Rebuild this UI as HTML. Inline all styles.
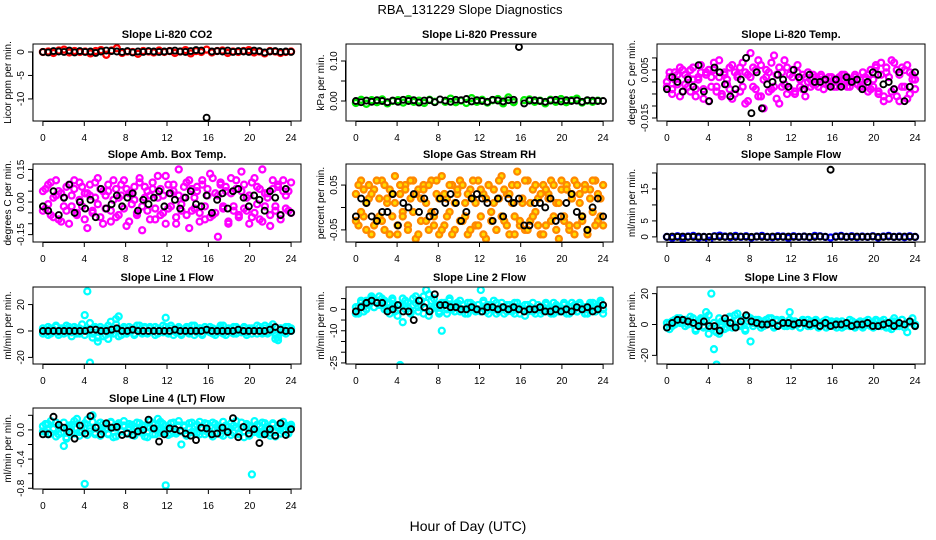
<!DOCTYPE html>
<html><head><meta charset="utf-8"><style>
body{margin:0;background:#fff;}
svg{display:block;font-family:"Liberation Sans",sans-serif;}
</style></head><body>
<svg id="chart" width="936" height="540" viewBox="0 0 936 540">
<text x="470" y="14" font-size="13" text-anchor="middle">RBA_131229  Slope Diagnostics</text>
<text x="468" y="531" font-size="14" text-anchor="middle">Hour of Day (UTC)</text>
</svg>
<script>
const xTicks=[0,4,8,12,16,20,24];
const co2Color=[0,.1,-.2,.3,.5,-.1,.2,0,.1,-.3,.2,.4,-.6,.3,.8,-.2,.1,0,-.4,.2,.1,-.1,.3,0,.2,-.2,.1,.4,-.3,.2,0,.5,-.1,.2,.3,-.2,.1,0,.2,.4,-.1,.1,-.3,.2,.1,-.2,0,.1];
const co2Black=[0,-.1,.2,.1,0,.3,-.1,.2,0,.1,-.2,.1,.3,.2,.1,0,.2,-.1,.1,0,.2,.1,0,.1,.2,.3,.1,0,.2,.4,.3,-14,.1,.2,.1,.3,0,.2,.1,0,.3,.2,-.1,.1,.2,0,.1,0];
const presColor=[-.005,.003,-.007,.002,-.003,.004,-.006,0,.002,-.004,.005,-.002,.001,-.005,.003,-.002,-.065,-.002,.006,-.003,.001,-.005,.007,-.002,.003,-.004,.002,.005,-.006,.009,-.003,-.065,.002,.004,-.002,.001,-.006,.003,-.002,.005,-.003,.002,.006,-.004,.001,-.002,.001,-.062];
const presBlack=[0,-.003,.001,-.002,.002,0,-.003,.001,-.002,.003,0,.002,-.004,.001,.002,-.003,.004,.001,-.002,.003,.002,.005,-.001,.002,0,-.002,.003,.001,-.001,.002,.003,.135,-.006,.001,.002,0,-.002,.001,.003,-.001,.002,0,.001,-.002,.002,.001,0,0];
const tempColor=[0,.002,-.003,.004,-.001,.006,-.004,.003,-.002,.005,.001,-.006,.002,.007,-.003,.004,-.008,.002,.005,-.002,.009,-.005,.003,-.001,.006,-.007,.004,.002,-.004,.008,-.009,.003,.012,-.002,.005,-.006,.007,-.011,.002,.004,-.003,.011,-.007,.006,-.002,.009,-.005,.003,.005,-.004,.007,-.002,.003,-.006,.004,.001,-.001,.002,-.002,.003,.001,-.001,.002,0,-.002,.001,.002,-.001,.003,-.002,.001,0,.002,-.001,.001,-.002,.002,.003,-.003,.001,.006,-.004,.008,-.006,.004,-.007,.009,-.003,.005,-.008,.006,-.002,.007,-.005,.003,.001];
const tempColor2=[-.002,.004,-.005,.001,.003,-.006,.005,-.001,.002,-.004,.006,-.003,.001,.004,-.007,.003,.005,-.002,.008,-.004,.002,-.006,.004,.001,-.003,.007,-.005,.003,.006,-.002,.004,-.008,.002,.006,-.003,.009,-.006,.001,.005,-.004,.008,-.002,.003,-.009,.004,-.001,.006,-.003,.002,-.005,.004,.001,-.003,.002,0,-.002,.003,-.001,.001,.002,-.003,.001,-.001,.002,.001,-.002,0,.003,-.001,.002,-.002,.001,.003,-.001,-.002,.004,.001,-.004,.005,-.002,.007,-.005,.003,-.008,.006,.002,-.004,.008,-.006,.003,-.002,.005,-.007,.004,.001,-.003];
const tempBlack=[-.003,.002,0,-.004,.001,-.002,.007,-.004,-.008,.006,.004,-.001,-.006,-.003,.001,.01,-.013,.004,-.011,-.001,0,.003,.001,-.002,.005,.002,-.003,.003,0,0,.001,-.002,.001,-.002,.002,0,.001,-.003,0,.004,.003,-.001,0,-.003,.004,-.008,-.002,.004];
const ambColor=[.05,-.03,.08,-.06,.02,.1,-.08,.04,-.02,.07,-.1,.03,.06,-.05,.09,-.02,.04,-.12,.08,-.04,.02,.11,-.07,.05,-.03,.08,-.09,.01,.06,-.06,.03,.1,-.11,.04,-.01,.07,-.05,.09,-.13,.02,.05,-.08,.06,-.03,.12,-.06,.03,-.1,.08,-.02,.05,-.07,.15,-.04,.02,.09,-.12,.06,-.03,.07,-.05,.1,-.08,.03,.13,-.06,.04,-.16,.08,-.02,.05,-.09,.11,-.04,.06,-.07,.14,-.03,.02,-.1,.09,-.05,.07,-.08,.15,-.02,.04,-.11,.06,-.04,.08,-.06,.1,-.03,.05,-.05];
const ambColor2=[-.04,.06,-.01,.09,-.07,.03,.05,-.09,.02,-.04,.08,-.02,.1,-.06,.01,.07,-.08,.04,.03,-.05,.09,-.01,.06,-.1,.03,.05,-.04,.1,-.07,.02,.08,-.03,.06,-.09,.04,.01,-.06,.11,-.02,.07,-.04,.03,.09,-.08,.02,.06,-.05,.12,-.03,.04,.08,-.1,.03,-.01,.07,-.06,.1,-.04,.02,.05,-.09,.08,-.02,.06,-.07,.11,-.05,.03,.09,-.03,.07,-.1,.04,-.02,.1,-.06,.05,.08,-.04,.03,-.07,.11,-.01,.06,-.09,.04,.02,-.06,.1,-.02,.07,-.08,.05,.03,-.04,.09];
const ambBlack=[-.02,-.04,.05,-.06,.02,.08,-.05,0,-.03,.01,-.07,.06,-.03,-.01,.03,-.02,.02,.04,-.04,.01,-.01,.02,.05,-.02,.04,.01,-.03,.02,.05,-.01,-.02,.03,-.05,.01,.04,-.03,.05,.06,.02,-.02,.03,.01,-.04,.05,.02,-.06,.06,-.05];
const rhColor=[.03,-.04,.06,-.02,.01,.05,-.06,.04,-.03,.02,.06,-.05,.01,.04,-.02,.07,-.06,.03,-.01,.05,-.04,.02,.06,-.07,.04,-.03,.05,.01,-.05,.06,-.02,.03,-.06,.07,-.04,.02,-.01,.05,-.05,.03,.06,-.03,.01,-.06,.04,.02,-.04,.06,-.02,.03,-.07,.05,-.01,.04,-.05,.02,.07,-.03,.03,-.06,.05,-.02,.08,-.04,.01,-.05,.06,-.03,.04,-.01,.02,-.06,.05,-.04,.03,.06,-.02,.01,-.07,.04,-.03,.05,-.05,.02,.06,-.04,.03,-.02,.05,-.06,.04,-.01,.06,-.03,.02,-.04];
const rhColor2=[-.03,.05,-.01,.04,-.05,.02,.03,-.04,.06,-.02,-.03,.05,.02,-.06,.03,.01,-.04,.05,-.02,.04,-.05,.06,-.01,.03,-.06,.02,.04,-.03,.05,-.01,-.04,.06,.02,-.05,.03,-.02,.05,-.06,.01,.04,-.03,.05,-.02,.03,-.05,.06,.01,-.04,.04,-.06,.02,.05,-.03,.01,-.05,.06,-.02,.04,-.04,.03,.01,-.06,.05,-.03,.02,.06,-.05,.01,-.02,.05,-.04,.03,-.06,.04,.02,-.03,.05,-.05,.01,.06,-.02,.04,-.04,.03,-.06,.05,.01,-.03,.04,-.05,.02,.06,-.04,.03,-.02,.05];
const rhBlack=[-.02,.02,.01,-.02,-.03,-.01,-.01,.03,-.04,.01,0,.03,-.01,.02,-.02,-.01,.02,.01,.03,.01,-.03,-.01,.02,.03,.02,.01,-.03,.02,-.02,.02,.01,.02,-.04,-.04,.01,.01,0,.02,-.03,-.02,.01,.03,-.01,-.02,-.05,0,.02,-.02];
const sampColor=[0,-.3,.2,-.5,.1,.3,-.2,0,-1.2,.2,.4,.1,-.1,.3,0,.2,-.2,.1,.3,0,-.1,.2,.1,-.3,.2,0,.1,-.1,.3,.2,0,-.2,.1,.3,0,.2,-.1,.1,0,.2,-.2,.1,.3,0,.1,-.1,.2,0];
const sampBlack=[0,.1,0,.1,0,0,.1,0,0,.1,0,0,.2,0,.1,0,0,.1,0,0,.1,0,0,.1,0,0,.1,0,0,.1,0,21,0,.1,0,0,.1,0,0,.1,0,0,.1,0,0,.1,0,0];
const l1Color=[-2,1,-3,2,0,3,-1,2,-2,4,1,-1,3,-2,2,0,12,30,-24,-5,3,-8,1,-4,2,-6,7,-2,9,11,-3,2,-1,3,0,-2,4,1,-2,3,-1,2,0,3,-2,1,4,10,-1,2,-3,1,3,-2,0,2,-1,4,-3,1,2,-2,3,0,-1,2,-3,1,4,-2,0,2,-1,3,-2,1,0,3,-1,2,-2,1,4,0,-2,2,-1,3,5,-6,-5,2,-1,3,0,2];
const l1Color2=[2,-1,3,-2,1,4,-3,0,2,-1,3,-4,1,2,-2,5,-3,1,6,-2,2,-5,3,1,-3,4,-1,2,5,-4,1,3,-2,0,2,-3,1,4,-1,2,-2,3,0,-3,2,1,-1,3,-2,4,0,-1,2,-3,1,3,-2,0,4,-1,2,-3,1,0,3,-2,1,-1,2,4,-3,0,1,-2,3,1,-1,2,-3,0,2,1,-2,3,-1,4,-2,1,0,-3,-7,2,1,-2,3,0];
const l1Black=[0,0,0,0,0,0,0,0,0,1,1,0,0,1,2,0,0,1,0,0,0,0,0,0,0,1,0,0,0,0,0,1,0,0,0,0,0,1,0,0,0,0,0,1,3,1,0,0];
const l2Color=[-2,1,3,-1,4,2,5,1,3,6,2,4,0,3,5,-1,2,-26,-6,4,1,-2,5,3,-1,2,6,9,-3,4,1,2,-2,-10,3,0,5,1,-1,2,4,0,-2,3,1,2,-1,0,9,3,-1,2,1,4,-2,0,3,1,-1,2,0,-2,3,1,0,-3,2,1,-1,0,2,-2,1,3,-1,0,-2,2,1,-1,3,0,-2,1,2,-1,3,0,1,-2,2,3,-1,1,4,0];
const l2Color2=[1,-2,4,2,0,3,6,1,4,2,5,0,3,-2,4,1,-3,2,5,0,3,-1,2,6,1,4,-2,3,7,0,5,1,-1,3,2,-2,4,0,1,3,-1,2,0,-2,3,1,0,2,-1,4,1,-2,2,0,3,-1,1,-2,2,0,-1,3,1,-2,0,2,-1,1,3,-2,0,1,-1,2,0,-2,3,1,-1,0,2,-2,1,3,0,-1,2,1,-2,0,3,1,-1,2,3,-2];
const l2Black=[-1,1,3,4,3,3,-1,0,2,-1,-1,-5,4,1,-1,7,2,2,1,1,0,0,1,0,-1,1,1,0,1,0,1,0,-1,0,0,1,-1,-1,0,-1,0,-1,1,0,1,-1,0,2];
const l3Color=[-2,1,-1,3,2,4,1,3,0,2,4,-3,1,3,-2,8,-6,20,-16,-26,-6,2,-3,1,4,-2,6,3,-1,2,-4,5,-11,1,3,0,2,-1,3,1,4,-1,2,0,3,1,-1,8,2,0,1,-2,3,1,-1,2,0,3,-1,1,2,-2,1,0,-1,2,1,-2,0,1,-1,2,-1,0,1,-2,2,0,-1,1,3,-1,2,0,-2,1,-3,2,1,-1,3,0,-5,2,1,0];
const l3Color2=[1,-3,2,0,4,1,3,-1,2,5,0,-4,2,4,-1,3,6,-2,1,-5,4,0,2,-2,5,1,-1,7,0,3,-3,2,4,-1,1,3,-2,2,0,4,1,-2,3,0,2,-1,1,3,-1,2,0,-2,2,1,3,-1,0,2,-2,1,0,3,-1,2,1,-2,0,2,-1,1,3,0,-2,1,2,-1,0,3,1,-2,2,0,-1,3,1,-2,2,4,-1,0,3,-2,1,2,4,-1];
const l3Black=[-2,1,3,3,2,1,-1,2,-1,-1,-4,4,1,-2,2,6,2,1,0,0,1,-1,1,1,0,1,1,0,1,-1,1,-1,0,0,1,-1,0,0,1,-1,-1,0,1,-1,1,0,2,-1];
const l4Color=[.05,-.03,.08,-.05,.02,.1,-.06,.03,-.22,-.12,.06,-.04,.12,.02,-.08,-.02,-.74,.14,-.02,.2,-.06,.04,.1,-.03,.07,-.05,.11,-.1,.03,.09,-.02,.06,-.04,.08,-.07,.02,.1,-.03,.05,-.09,.04,.12,-.06,.02,.15,-.04,.08,-.76,.03,-.05,.1,-.02,.06,-.2,.04,-.07,.09,-.03,.05,-.04,.11,.02,-.06,.08,-.03,.1,-.05,.04,.02,-.08,.06,-.02,.09,-.04,.12,-.06,.03,-.1,.08,.05,-.61,-.03,.07,-.06,.1,-.02,.04,-.08,.09,-.03,.06,-.05,.11,-.01,.03,.07];
const l4Color2=[-.02,.08,-.06,.12,.01,-.09,.05,-.04,.1,-.1,.03,.07,-.05,.15,-.03,.06,.09,-.07,.02,.11,-.04,.05,-.08,.08,.01,-.06,.1,.03,-.09,.06,-.02,.12,-.05,.04,.07,-.08,.02,.09,-.04,.06,-.1,.03,.08,-.06,.01,.11,-.03,.05,-.07,.09,.02,-.05,.12,-.02,.06,-.08,.03,.1,-.04,.07,-.06,.01,.09,-.03,.05,-.09,.08,.02,-.06,.11,-.01,.04,-.07,.06,.03,-.05,.1,-.02,.07,-.08,.04,.12,-.03,.05,-.06,.09,.01,-.04,.07,-.09,.03,.08,-.02,.06,-.05,.04];
const l4Black=[-.06,-.06,.18,.07,.03,-.03,-.12,.06,-.05,.19,.03,-.06,.09,.03,.04,-.07,-.05,-.07,-.02,0,.14,.02,-.16,-.06,.02,.01,-.01,-.05,-.08,-.14,.03,.02,-.06,-.05,.03,-.03,.16,-.1,.04,-.05,.01,-.18,-.06,.01,-.08,.09,-.07,.01];

const NS='http://www.w3.org/2000/svg';
const svg=document.getElementById('chart');
const cols=[[33,301],[346,613],[657,925]];
const rows=[[44,121],[164,242],[287,364],[408,489]];
const panels=[
{id:'co2',title:'Slope Li-820 CO2',yl:'Licor ppm per min.',c:0,r:0,d:[-14.7,1.7],t:[0,-5,-10,-15],tl:['0','-5','-10',''],col:'#ff0000',a:co2Color,a2:null,b:co2Black},
{id:'pressure',title:'Slope Li-820 Pressure',yl:'kPa per min.',c:1,r:0,d:[-0.05,0.1425],t:[0,0.05,0.1],tl:['0.00','','0.10'],col:'#00ee00',a:presColor,a2:null,b:presBlack},
{id:'temp',title:'Slope Li-820 Temp.',yl:'degrees C per min.',c:2,r:0,d:[-0.01625,0.0158],t:[0.01,0.005,0,-0.005,-0.01,-0.015],tl:['','0.005','','','','-0.015'],col:'#ff00ff',a:tempColor,a2:tempColor2,b:tempBlack},
{id:'amb-box-temp',title:'Slope Amb. Box Temp.',yl:'degrees C per min.',c:0,r:1,d:[-0.184,0.175],t:[0.15,0.1,0.05,0,-0.05,-0.1,-0.15],tl:['0.15','','','0.00','','','-0.15'],col:'#ff00ff',a:ambColor,a2:ambColor2,b:ambBlack},
{id:'gas-rh',title:'Slope Gas Stream RH',yl:'percent per min.',c:1,r:1,d:[-0.077,0.097],t:[0.05,0,-0.05],tl:['0.05','','-0.05'],col:'#ff8800',fill:'#ffdd00',a:rhColor,a2:rhColor2,b:rhBlack},
{id:'sample-flow',title:'Slope Sample Flow',yl:'ml/min per min.',c:2,r:1,d:[-1.6,22.8],t:[0,5,10,15,20],tl:['0','5','','15',''],col:'#0000ff',a:sampColor,a2:null,b:sampBlack},
{id:'line1',title:'Slope Line 1 Flow',yl:'ml/min per min.',c:0,r:2,d:[-25,33.3],t:[20,0,-20],tl:['20','0','-20'],col:'#00ffff',a:l1Color,a2:l1Color2,b:l1Black},
{id:'line2',title:'Slope Line 2 Flow',yl:'ml/min per min.',c:1,r:2,d:[-25.5,10.4],t:[5,0,-5,-10,-15,-20,-25],tl:['','0','','-10','','','-25'],col:'#00ffff',a:l2Color,a2:l2Color2,b:l2Black},
{id:'line3',title:'Slope Line 3 Flow',yl:'ml/min per min.',c:2,r:2,d:[-25.6,24.3],t:[20,0,-20],tl:['20','0','-20'],col:'#00ffff',a:l3Color,a2:l3Color2,b:l3Black},
{id:'line4',title:'Slope Line 4 (LT) Flow',yl:'ml/min per min.',c:0,r:3,d:[-0.81,0.30],t:[0.2,0,-0.2,-0.4,-0.6,-0.8],tl:['','0.0','','-0.4','','-0.8'],col:'#00ffff',a:l4Color,a2:l4Color2,b:l4Black}
];
function mk(tag,attrs,parent){const e=document.createElementNS(NS,tag);for(const k in attrs)e.setAttribute(k,attrs[k]);(parent||svg).appendChild(e);return e;}
panels.forEach(p=>{
  const [L,R]=cols[p.c],[T,B]=rows[p.r];
  const xs=h=>L+(h+0.96)/25.92*(R-L);
  const ys=v=>B-(v-p.d[0])/(p.d[1]-p.d[0])*(B-T);
  const g=mk('g',{});
  
  
  const tt=mk('text',{x:(L+R)/2,y:T-6,'font-size':11,'font-weight':'bold','text-anchor':'middle'},g);
  tt.textContent=p.title;
  
  
  const cl=mk('clipPath',{id:'clip-'+p.id},g);mk('rect',{x:L,y:T,width:R-L,height:B-T},cl);
  const pts=mk('g',{'clip-path':'url(#clip-'+p.id+')'},g);
  const sets=[[p.a,p.col,'color',p.fill||'none',2.3]];
  if(p.a2)sets.push([p.a2,p.col,'color',p.fill||'none',2.3]);
  sets.push([p.b,'#000','black','none',1.9]);
  sets.forEach(([arr,c,nm,f,sw])=>{
    arr.forEach((v,i)=>{
      const h=i*24/(arr.length-1);
      const ci=mk('circle',{cx:xs(h),cy:ys(v),r:3,fill:f,stroke:c,'stroke-width':sw},pts);
      
      
    });
  });
  const box=mk('rect',{x:L,y:T,width:R-L,height:B-T,fill:'none',stroke:'#000','stroke-width':1},g);
  
  
  mk('line',{x1:xs(0),x2:xs(24),y1:B+0.5,y2:B+0.5,stroke:'#000'},g);
  xTicks.forEach(t=>{
    mk('line',{x1:xs(t),x2:xs(t),y1:B,y2:B+5,stroke:'#000'},g);
    const tx=mk('text',{x:xs(t),y:B+20,'font-size':10,'text-anchor':'middle'},g);tx.textContent=t;
    
    
  });
  const tv=p.t.filter(v=>v>=p.d[0]&&v<=p.d[1]);
  mk('line',{x1:L-0.5,x2:L-0.5,y1:ys(Math.max(...tv)),y2:ys(Math.min(...tv)),stroke:'#000'},g);
  p.t.forEach((v,i)=>{
    if(v<p.d[0]||v>p.d[1])return;
    mk('line',{x1:L-5,x2:L,y1:ys(v),y2:ys(v),stroke:'#000'},g);
    if(p.tl[i]){const ty=mk('text',{x:0,y:0,'font-size':10,'text-anchor':'middle',transform:`translate(${L-9},${ys(v)}) rotate(-90)`},g);ty.textContent=p.tl[i];
      
      }
  });
  const yl=mk('text',{x:0,y:0,'font-size':10,'text-anchor':'middle',transform:`translate(${L-22},${(T+B)/2}) rotate(-90)`},g);
  yl.textContent=p.yl;
  
  
});
</script>
</body></html>
